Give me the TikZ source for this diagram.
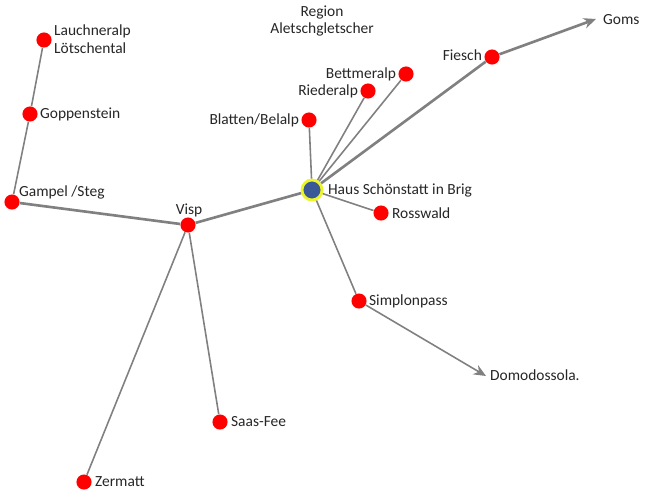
\documentclass[tikz,border=0pt]{standalone}
\usepackage{fontspec}
\setmainfont{Carlito}
\usetikzlibrary{arrows.meta}

\definecolor{linie}{RGB}{128,128,128}
\definecolor{hausblau}{RGB}{58,88,150}
\definecolor{ring}{RGB}{235,245,40}

\tikzset{
	ort/.style={circle,fill=red,inner sep=0pt,minimum size=8.6pt},
	haus/.style={circle,fill=hausblau,draw=ring,line width=1.6pt,inner sep=0pt,minimum size=11.4pt},
	verbindung/.style={color=linie,line width=0.9pt},
	hauptweg/.style={color=linie,line width=1.5pt},
	schrift/.style={font=\fontsize{8.8}{10}\selectfont,color=black!85,inner sep=1pt}
}

\begin{document}
\begin{tikzpicture}[x=0.02cm,y=-0.02cm,>={Stealth[length=7pt,width=6pt]}]
\useasboundingbox (0,0) rectangle (651,490);
% Orte
\node[haus] (brig) at (312,190) {};
\node[ort] (lauchneralp) at (44,40) {};
\node[ort] (goppenstein) at (30,114) {};
\node[ort] (gampel) at (12,202) {};
\node[ort] (visp) at (188,225) {};
\node[ort] (blatten) at (309,120) {};
\node[ort] (riederalp) at (368,91) {};
\node[ort] (bettmeralp) at (406,74) {};
\node[ort] (fiesch) at (492,57) {};
\node[ort] (rosswald) at (381,213) {};
\node[ort] (simplon) at (359,301) {};
\node[ort] (saasfee) at (220,422) {};
\node[ort] (zermatt) at (84,482) {};
\coordinate (goms) at (596,19);
\coordinate (domo) at (486,376);
%
\draw[verbindung] (lauchneralp) -- (goppenstein) -- (gampel);
\draw[hauptweg] (gampel) -- (visp);
\draw[hauptweg] (visp) -- (brig);
\draw[verbindung] (visp) -- (saasfee);
\draw[verbindung] (visp) -- (zermatt);
\draw[verbindung] (brig) -- (blatten);
\draw[verbindung] (brig) -- (riederalp);
\draw[verbindung] (brig) -- (bettmeralp);
\draw[hauptweg] (brig) -- (fiesch);
\draw[hauptweg,->] (fiesch) -- (goms);
\draw[verbindung] (brig) -- (rosswald);
\draw[verbindung] (brig) -- (simplon);
\draw[verbindung,->] (simplon) -- (domo);
%
\node[schrift,align=left,anchor=north west] (tlauchneralp) at (52,23) {Lauchneralp\\Lötschental};
\node[schrift,right] (tgoppenstein) at (38,114) {Goppenstein};
\node[schrift,right] (tgampel) at (17,192) {Gampel /Steg};
\node[schrift] (tvisp) at (189,210) {Visp};
\node[schrift,right] (tbrig) at (326,190) {Haus Schönstatt in Brig};
\node[schrift,left] (tblatten) at (301,120) {Blatten/Belalp};
\node[schrift,left] (triederalp) at (360,91) {Riederalp};
\node[schrift,left] (tbettmeralp) at (398,74) {Bettmeralp};
\node[schrift,left] (tfiesch) at (484,55) {Fiesch};
\node[schrift,right] (tgoms) at (601,20) {Goms};
\node[schrift,right] (trosswald) at (390,213) {Rosswald};
\node[schrift,right] (tsimplon) at (367,301) {Simplonpass};
\node[schrift,right] (tdomo) at (488,375) {Domodossola.};
\node[schrift,right] (tsaasfee) at (229,422) {Saas-Fee};
\node[schrift,right] (tzermatt) at (93,482) {Zermatt};
\node[schrift,align=center] (tregion) at (322,21) {Region\\Aletschgletscher};
\end{tikzpicture}
\end{document}
